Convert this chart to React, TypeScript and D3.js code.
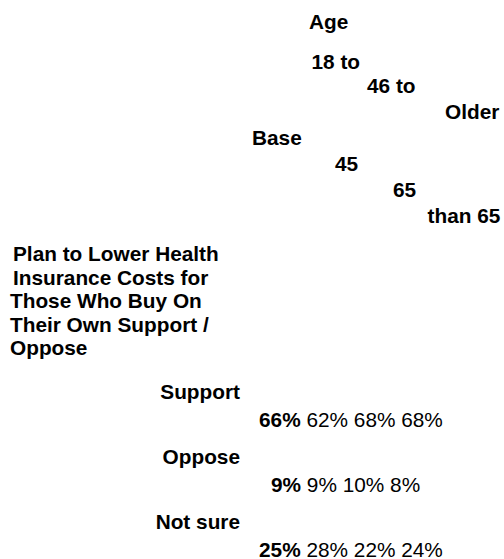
import React from "react";
import * as d3 from "d3";

const groupTitle = "Age";
const columnLabels = [["Base"], ["18 to", "45"], ["46 to", "65"], ["Older", "than 65"]];
const questionLines = [
  "Plan to Lower Health",
  "Insurance Costs for",
  "Those Who Buy On",
  "Their Own Support /",
  "Oppose",
];
const categories = ["Support", "Oppose", "Not sure"];
const baseValues = [66, 9, 25];
const age18to45 = [62, 9, 28];
const age46to65 = [68, 10, 22];
const olderThan65 = [68, 8, 24];

const W = 504;
const H = 559;
const FONT = "'Liberation Sans', Arial, Helvetica, sans-serif";
const FS = 20.8;

export default function App() {
  const series = [baseValues, age18to45, age46to65, olderThan65];
  const y = d3.scalePoint<string>().domain(categories).range([399, 528.5]);
  const fmt = (v: number) => `${v}%`;
  const valueStart: Record<string, number> = { Support: 259, Oppose: 271, "Not sure": 259 };

  // header layout: [x, baseline] per line
  const headerPos: [number, number][][] = [
    [[252, 145]],
    [[311.5, 69]],
    [[367, 92.7]],
    [[445, 119]],
  ];
  const headerPos2: [number, number][] = [[0, 0], [335, 171], [393, 196.7], [427.5, 222.5]];

  return (
    <svg
      width={W}
      height={H}
      style={{ position: "absolute", left: 0, top: 0, background: "#fff" }}
      fontFamily={FONT}
      fontSize={FS}
      fill="#000"
    >
      <text x={309} y={29.3} fontWeight="bold">{groupTitle}</text>
      {columnLabels.map((lines, i) =>
        lines.map((l, j) => {
          const p = j === 0 ? headerPos[i][0] : headerPos2[i];
          return (
            <text key={`${i}-${j}`} x={p[0]} y={p[1]} fontWeight="bold">
              {l}
            </text>
          );
        })
      )}
      {questionLines.map((l, i) => (
        <text key={l} x={i < 2 ? 13 : 10} y={261 + i * 23.6} fontWeight="bold">
          {l}
        </text>
      ))}
      {categories.map((c, i) => (
        <g key={c}>
          <text x={240} y={y(c)} textAnchor="end" fontWeight="bold">{c}</text>
          <text x={valueStart[c]} y={(y(c) as number) + 28}>
            {series.map((s, k) => (
              <tspan key={k} fontWeight={k === 0 ? "bold" : "normal"}>
                {(k > 0 ? " " : "") + fmt(s[i])}
              </tspan>
            ))}
          </text>
        </g>
      ))}
    </svg>
  );
}
